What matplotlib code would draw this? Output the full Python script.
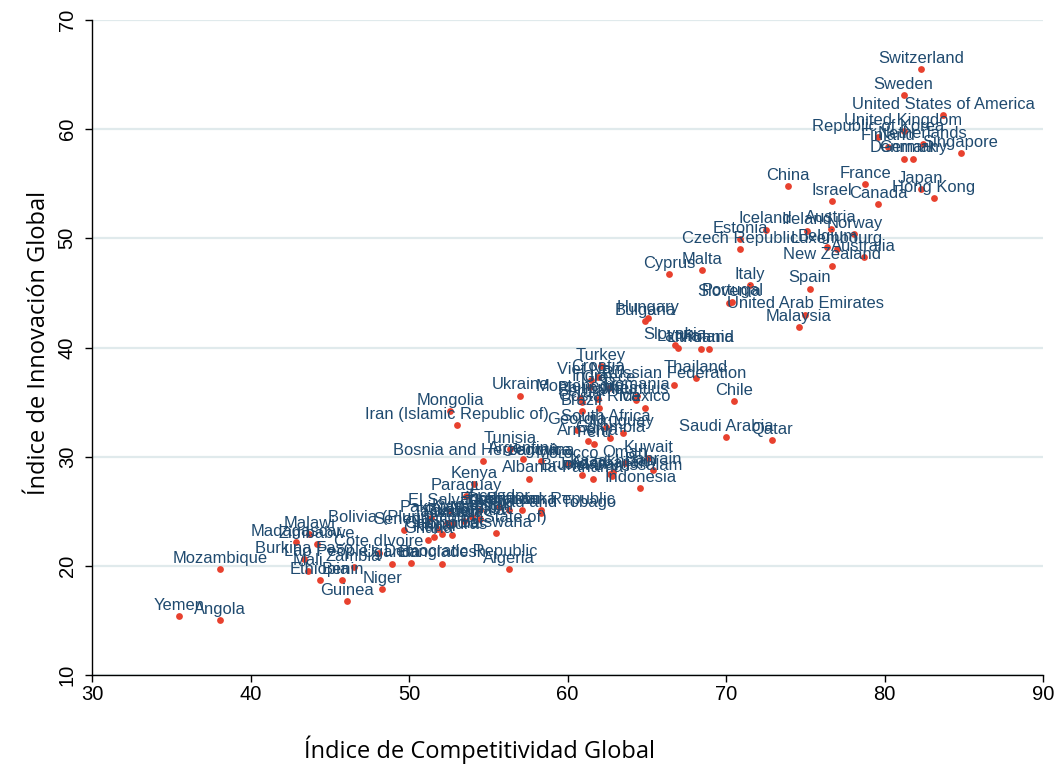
import matplotlib
matplotlib.use("Agg")
import matplotlib.pyplot as plt

# Global Competitiveness Index (x) vs Global Innovation Index (y)
countries = [
    "Switzerland", "Sweden", "United States of America", "United Kingdom", "Republic of Korea",
    "Netherlands", "Finland", "Singapore", "Denmark", "Germany",
    "France", "China", "Japan", "Hong Kong", "Israel", "Canada",
    "Iceland", "Austria", "Ireland", "Norway", "Estonia", "Belgium", "Luxembourg",
    "Czech Republic", "Australia", "New Zealand", "Malta", "Cyprus", "Italy", "Spain",
    "Portugal", "Slovenia", "United Arab Emirates", "Hungary", "Bulgaria", "Malaysia",
    "Slovakia", "Latvia", "Lithuania", "Poland", "Turkey", "Croatia", "Thailand",
    "Viet Nam", "Russian Federation", "India", "Greece", "Romania", "Ukraine",
    "Montenegro", "Philippines", "Mauritius", "Chile", "Serbia", "Mexico", "Costa Rica",
    "Brazil", "Mongolia", "Iran (Islamic Republic of)", "South Africa", "Georgia",
    "Uruguay", "Saudi Arabia", "Colombia", "Qatar", "Armenia", "Peru", "Tunisia",
    "Kuwait", "Argentina", "Jamaica", "Bosnia and Herzegovina", "Oman", "Morocco",
    "Bahrain", "Kazakhstan", "Azerbaijan", "Jordan", "Brunei Darussalam", "Panama",
    "Albania", "Kenya", "Indonesia", "Paraguay", "Ecuador", "Lebanon",
    "Dominican Republic", "Egypt", "Sri Lanka", "El Salvador", "Trinidad and Tobago",
    "Kyrgyzstan", "Pakistan", "Namibia", "Guatemala", "Rwanda", "Tajikistan",
    "Bolivia (Plurinational State of)", "Senegal", "Botswana", "Malawi", "Honduras",
    "Madagascar", "Nepal", "Cambodia", "Ghana", "Zimbabwe", "Cote dIvoire",
    "Burkina Faso", "Mali", "Zambia", "Uganda", "Lao People's Democratic Republic",
    "Bangladesh", "Algeria", "Ethiopia", "Benin", "Niger", "Guinea", "Mozambique",
    "Yemen", "Angola",
]
gci = [
    82.3, 81.2, 83.7, 81.2, 79.6,
    82.4, 80.2, 84.8, 81.2, 81.8,
    78.8, 73.9, 82.3, 83.1, 76.7, 79.6,
    72.5, 76.6, 75.1, 78.1, 70.9, 76.4, 77.0,
    70.9, 78.7, 76.7, 68.5, 66.4, 71.5, 75.3,
    70.4, 70.2, 75.0, 65.1, 64.9, 74.6,
    66.8, 67.0, 68.4, 68.9, 62.1, 61.9, 68.1,
    61.5, 66.7, 61.4, 62.6, 64.4, 57.0,
    60.8, 61.9, 64.3, 70.5, 60.9, 64.9, 62.0,
    60.9, 52.6, 53.0, 62.4, 60.6,
    63.5, 70.0, 62.7, 72.9, 61.3, 61.7, 56.4,
    65.1, 57.2, 58.3, 54.7, 63.6, 60.0,
    65.4, 62.9, 62.7, 60.9, 62.8, 61.6,
    57.6, 54.1, 64.6, 53.6, 55.7, 56.3,
    58.3, 54.5, 57.1, 52.6, 58.3,
    54.0, 51.4, 54.5, 53.5, 52.8, 52.4,
    51.8, 49.7, 55.5, 43.7, 52.7,
    42.9, 51.6, 52.1, 51.2, 44.2, 48.1,
    43.4, 43.6, 46.5, 48.9, 50.1,
    52.1, 56.3, 44.4, 45.8, 48.3, 46.1, 38.1,
    35.5, 38.1,
]
gii = [
    65.5, 63.1, 61.3, 59.8, 59.3,
    58.6, 58.4, 57.8, 57.3, 57.3,
    55.0, 54.8, 54.5, 53.7, 53.4, 53.1,
    50.8, 50.9, 50.7, 50.4, 49.9, 49.2, 49.0,
    49.0, 48.3, 47.5, 47.1, 46.7, 45.7, 45.4,
    44.2, 44.1, 43.0, 42.7, 42.4, 41.9,
    40.2, 40.0, 39.9, 39.9, 38.3, 37.3, 37.2,
    37.0, 36.6, 36.4, 36.3, 35.6, 35.6,
    35.4, 35.3, 35.2, 35.1, 35.0, 34.5, 34.5,
    34.2, 34.2, 32.9, 32.7, 32.4,
    32.2, 31.8, 31.7, 31.5, 31.4, 31.2, 30.7,
    29.9, 29.8, 29.6, 29.6, 29.4, 29.3,
    28.8, 28.6, 28.4, 28.3, 28.2, 28.0,
    28.0, 27.5, 27.1, 26.4, 25.4, 25.1,
    25.1, 25.1, 25.1, 25.0, 24.8,
    24.5, 24.4, 24.3, 24.1, 23.9, 23.9,
    23.4, 23.3, 23.0, 22.9, 22.8,
    22.2, 22.6, 22.9, 22.4, 22.0, 21.2,
    20.6, 19.5, 19.9, 20.2, 20.3,
    20.2, 19.7, 18.7, 18.7, 17.9, 16.8, 19.7,
    15.4, 15.0,
]

dot_color = "#e8412e"
label_color = "#1f4a6f"
grid_color = "#e0eaec"

fig = plt.figure(figsize=(10.55, 7.64), dpi=100)
ax = fig.add_axes([92 / 1055, 1 - 675 / 764, (1043 - 92) / 1055, (675 - 20) / 764])

ax.scatter(gci, gii, s=24, color=dot_color, linewidths=0, zorder=3)
for name, xv, yv in zip(countries, gci, gii):
    ax.annotate(name, (xv, yv), xytext=(0, 4.5), textcoords="offset points",
                ha="center", va="baseline", fontsize=11.9, color=label_color,
                family=["Liberation Sans", "DejaVu Sans"], zorder=4)

ax.set_xlim(30, 90)
ax.set_ylim(10, 70)
ax.set_xticks(range(30, 91, 10))
ax.set_yticks(range(10, 71, 10))
ax.grid(axis="y", color=grid_color, linewidth=1.6)
ax.set_axisbelow(True)

for s in ["top", "right"]:
    ax.spines[s].set_visible(False)
for s in ["left", "bottom"]:
    ax.spines[s].set_linewidth(1.0)
    ax.spines[s].set_color("black")

ax.tick_params(axis="both", length=5, width=1, labelsize=14.5)
ax.tick_params(axis="x", pad=2)
ax.tick_params(axis="y", pad=6)
for lab in ax.get_yticklabels():
    lab.set_rotation(90)
    lab.set_va("center")
for lab in ax.get_xticklabels() + ax.get_yticklabels():
    lab.set_family(["Liberation Sans", "DejaVu Sans"])

fig.text(480 / 1055, 1 - 750 / 764, "Índice de Competitividad Global", ha="center", va="center",
         fontsize=17, family=["Open Sans", "DejaVu Sans"])
fig.text(39 / 1055, 1 - 343 / 764, "Índice de Innovación Global", ha="center", va="center",
         rotation=90, fontsize=17, family=["Open Sans", "DejaVu Sans"])

fig.savefig("out.png", dpi=100)
